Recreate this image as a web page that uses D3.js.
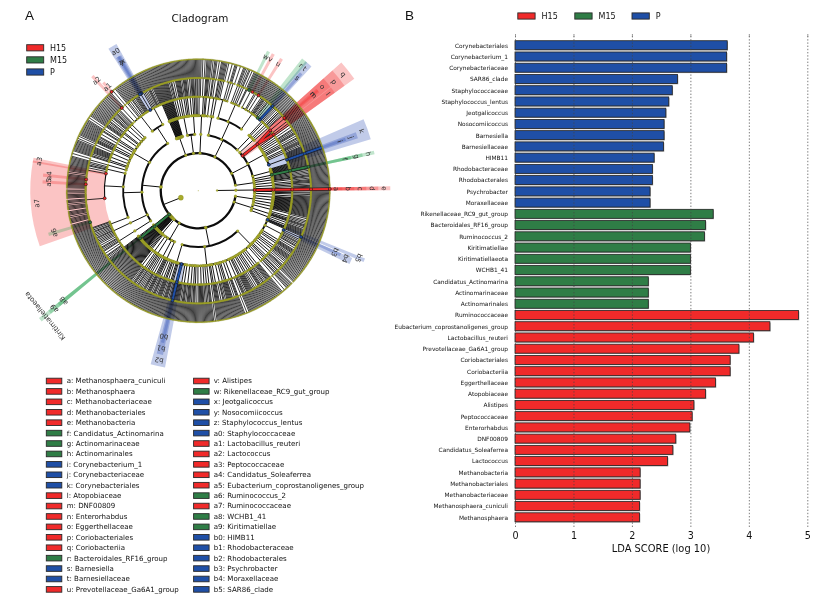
<!DOCTYPE html>
<html>
<head>
<meta charset="utf-8">
<script src="https://cdn.jsdelivr.net/npm/d3@7"></script>
<style>
html,body{margin:0;padding:0;background:#fff}
svg{display:block;font-family:"DejaVu Sans",sans-serif;filter:blur(0.3px)}
</style>
</head>
<body>
<svg id="chart" width="840" height="598"></svg>
<script>
// ---------- data: LDA bars ----------
const barNames = ["Corynebacteriales","Corynebacterium_1","Corynebacteriaceae","SAR86_clade","Staphylococcaceae","Staphylococcus_lentus","Jeotgalicoccus","Nosocomiicoccus","Barnesiella","Barnesiellaceae","HIMB11","Rhodobacteraceae","Rhodobacterales","Psychrobacter","Moraxellaceae","Rikenellaceae_RC9_gut_group","Bacteroidales_RF16_group","Ruminococcus_2","Kiritimatiellae","Kiritimatiellaeota","WCHB1_41","Candidatus_Actinomarina","Actinomarinaceae","Actinomarinales","Ruminococcaceae","Eubacterium_coprostanoligenes_group","Lactobacillus_reuteri","Prevotellaceae_Ga6A1_group","Coriobacteriales","Coriobacteriia","Eggerthellaceae","Atopobiaceae","Alistipes","Peptococcaceae","Enterorhabdus","DNF00809","Candidatus_Soleaferrea","Lactococcus","Methanobacteria","Methanobacteriales","Methanobacteriaceae","Methanosphaera_cuniculi","Methanosphaera"];
const barValues = [3.63,3.62,3.62,2.78,2.69,2.63,2.58,2.55,2.55,2.54,2.38,2.35,2.35,2.31,2.31,3.39,3.26,3.24,3.0,3.0,3.0,2.28,2.28,2.28,4.85,4.36,4.08,3.83,3.68,3.68,3.43,3.26,3.06,3.03,2.99,2.75,2.7,2.61,2.14,2.14,2.14,2.13,2.13];
const barGroups = ["P","P","P","P","P","P","P","P","P","P","P","P","P","P","P","M15","M15","M15","M15","M15","M15","M15","M15","M15","H15","H15","H15","H15","H15","H15","H15","H15","H15","H15","H15","H15","H15","H15","H15","H15","H15","H15","H15"];
const xTicks = [0,1,2,3,4,5];
const groups = ["H15","M15","P"];
const groupColors = ["#f02a2a","#2f7d46","#1f4fa6"];
const wedgeColors = ["#f02a2a","#1fa24c","#1f45b0"];

// ---------- data: cladogram key ----------
const keyLetters = ["a","b","c","d","e","f","g","h","i","j","k","l","m","n","o","p","q","r","s","t","u","v","w","x","y","z","a0","a1","a2","a3","a4","a5","a6","a7","a8","a9","b0","b1","b2","b3","b4","b5"];
const keyNames = ["Methanosphaera_cuniculi","Methanosphaera","Methanobacteriaceae","Methanobacteriales","Methanobacteria","Candidatus_Actinomarina","Actinomarinaceae","Actinomarinales","Corynebacterium_1","Corynebacteriaceae","Corynebacteriales","Atopobiaceae","DNF00809","Enterorhabdus","Eggerthellaceae","Coriobacteriales","Coriobacteriia","Bacteroidales_RF16_group","Barnesiella","Barnesiellaceae","Prevotellaceae_Ga6A1_group","Alistipes","Rikenellaceae_RC9_gut_group","Jeotgalicoccus","Nosocomiicoccus","Staphylococcus_lentus","Staphylococcaceae","Lactobacillus_reuteri","Lactococcus","Peptococcaceae","Candidatus_Soleaferrea","Eubacterium_coprostanoligenes_group","Ruminococcus_2","Ruminococcaceae","WCHB1_41","Kiritimatiellae","HIMB11","Rhodobacteraceae","Rhodobacterales","Psychrobacter","Moraxellaceae","SAR86_clade"];
const keyGroups = ["H15","H15","H15","H15","H15","M15","M15","M15","P","P","P","H15","H15","H15","H15","H15","H15","M15","P","P","H15","H15","M15","P","P","P","P","H15","H15","H15","H15","H15","M15","H15","M15","M15","P","P","P","P","P","P"];
const strongLineages = ["e","d","c","b","h","g","j","i","q","p","t","b2","b1","Kiritimatiellaeota","a9"];

// ---------- data: taxonomy tree, counted as clades per level ----------
const euryarchaeota = [[[1,1,1],2],[1,1,2],["e",["d",["c",["b",["a"]]]]],[[1,1],[1,1]],[2,[1,1]]];
const smallPhylum = [[[1,1],[2,1]],[1,1,2],[1,2]];
const actinobacteria = [
  [1,1,["h",["g",["f",1]]],1],
  [1,1,1,1,1,1,1,1],
  [["k",1,1,1,["j",1,["i",1],1],1,1,1,1,1,1],[1,2],[1],[1,1,1],[2,1],[1],[3],[1,1],[1,2,1],[1],[4],[1]],
  ["q",["p",["l",1,1,1],2,["o",1,1,["m",1],["n",1],1,1]]],
  [[1,1],[2,1]]
];
const bacteroidetes = [
  [[1,2],[2,1],2],
  [
    [["t",1,["s",1],1,1],["r",1,1,1],1,1,2,1,1,1,1,2,[1,1,["u",1],1,1],1,2,[1,["v",1],1,1,1,["w",1],1]],
    [1,1,[3,1],1,[2,1],2],
    [[5,1],1,[1,4],[2,1],1]
  ],
  [[2,1],[1,[3,1]]]
];
const phylumE = [[[1,1,[2,1]],[1,1],1,[1,[2,2]],[1,2,1],1,[2]]];
const phylumF = [[[1,1],[1,1],[2,2]],[[1,1,1],1,[2,1],[1,1,1,1],1,[3,1],[1,2],1]];
const phylumG = [1,1,1,1,1,1,1,1,1,1,1,1,1,1];
const firmicutes = [
  [
    [1,1,2,1,1,1,2,1,2,1,["a0",1,["x",1],["y",1],["z",1],1],1,1,1,1],
    [1,2,1,1,3,1,2,[[1,1,1,["a1"]]],[1,1,["a2",1],1,1]]
  ],
  [[1,1,2,1],[1,1],[2,1,1,1,3],[1],[1,2],[1,1,1,1],[[3,1],1],[1],[5],[1,1,2],1,[1,1,1],[[2,2],1],[1,1,1,1,1,1],[2],[1,1],[[4,1]]],
  [
    [1,2,1,1,3],
    [["a3",1,1],["a7",1,1,1,2,1,1,1,["a4",1],1,1,1,1,["a5",1],1,1,1,1,0,1,1,2,1,1,1,1,0,1,1,1,2,1,1,1,1,0,1,1,1,1,2,1,1,1,1,1,0,1,1,["a6",1],1,1,1,1,1]],
    [1,1,2,1,1,2]
  ],
  [[1,2,1,1,2,1,2]],
  [[1,3,1,1,2,1,1,4,1,1,2]]
];
const phylumI = [[1,1],[1,1]];
const kiritimatiellaeota = ["Kiritimatiellaeota",["a9",["a8",1]]];
const singlePhyla = [1,1,1,1,1,1,1,1,1,1,1,1,1,1,1,1,1];
const phylumJ = [[1,1],[1,1],[1,1],[1,1]];
const phylumK = [[[1,1,1,2],[1,1]],[[1,2],1,[1,2]],[1,[2,1],[1,1,2],1,[1,1]],[1,2]];
const proteobacteria = [
  [[1,1,1],[2,1],[1,1],1,[1,2,1],[1,1],1,2,["b2",1,1,["b1",1,["b0",1],1],1,1,1],[1,1,1],[2,1]],
  [[1,1,2,1,1],[1,1],[2,1,1],[1],[3,1],[1,1,1,1,1],[2],[1,2,1],[1,1],[[2,1],1],[1],[1,1,1,3],[1,1],[2,1,1,1],[1],[1,1,1],[3,1]],
  [[1,1,[3,1]],[1,1,1],[2,1],1,[1,1,1,1],[1,2],[1],[3,1],[1,1],[1,2],
   [1,1,2],[1],[1,1,1,1,1],[[4,1]],[1,1],[2,1],[1],[0,1,2],[1,1,1],[3],[1,2,1],[1],[1,1,1,1],[2,1],[1,1],[1,1,3],
   [1,1,2,1,1,2,1,["b4",1,1,["b3",1]]],1,1,["b5",1],1]
];
const phylumL1 = [[[1,1,1],[1,2]],[1,1,1,2],[[1,2],[2,1],1]];
const phylumL2 = [[1,1,1,1],[1,1,1,1,1],[1,1,1,1,1],[1,1,1,1]];
const taxonomy = [
  [euryarchaeota],
  [smallPhylum,actinobacteria,bacteroidetes,phylumE,phylumF,phylumG,firmicutes,phylumI,kiritimatiellaeota,...singlePhyla,phylumJ,phylumK,proteobacteria,phylumL1,phylumL2]
];

// ---------- build ----------
const SPECIES = 7;
function build(v, depth){
  if (Array.isArray(v)) {
    const tag = typeof v[0] === "string" ? v[0] : null;
    const kids = (tag ? v.slice(1) : v).map(k => build(k, depth + 1));
    return {tag, children: kids};
  }
  if (depth >= SPECIES || v === 0) return {};
  if (depth === SPECIES - 1) return {children: d3.range(v).map(() => ({}))};
  if (depth === SPECIES - 2) return {children: d3.range(v).map(() => build(1, depth + 1))};
  return {children: [build(v, depth + 1)]};
}
const root = d3.hierarchy(build(taxonomy, 0), d => d.children && d.children.length ? d.children : null);
d3.cluster().size([360, 1]).separation(() => 1)(root);
root.count();

const svg = d3.select("#chart");
const colorOf = d3.scaleOrdinal(groups, groupColors);
const wedgeColorOf = d3.scaleOrdinal(groups, wedgeColors);
const groupOfTag = new Map(keyLetters.map((k, i) => [k, keyGroups[i]]));
groupOfTag.set("Kiritimatiellaeota", "M15");

// ---------- panel A ----------
const START = -4;
const theta = d => START + d.x;
const toA = t => (90 - t) * Math.PI / 180;
const radius = d3.scaleLinear([0, SPECIES], [0, 131.5]);
const labelRing = depth => 138 + (SPECIES - depth) * 12;
const clad = svg.append("g").attr("transform", "translate(198.3,190.7)");
const tagged = root.descendants().filter(d => d.data.tag);

const wedgeArc = d3.arc();
const PAD = 0.35, HALF = 0.25;
clad.append("g").selectAll("path").data(tagged).join("path")
  .attr("d", d => {
    const ls = d.leaves().map(theta);
    const t0 = d3.min(ls) - HALF - PAD, t1 = d3.max(ls) + HALF + PAD;
    return wedgeArc({innerRadius: radius(d.depth), outerRadius: labelRing(d.depth) + 6, startAngle: toA(t1), endAngle: toA(t0)});
  })
  .attr("fill", d => wedgeColorOf(groupOfTag.get(d.data.tag)))
  .attr("fill-opacity", 0.28);

const arcWidth = [0, 0, 2.3, 2.0, 1.8, 1.1, 0.5, 0.35];
const radialWidth = [0, 1.0, 1.0, 1.0, 0.95, 0.85, 0.8];
const internal = root.descendants().filter(d => d.children && d.depth > 0);
const links = clad.append("g").attr("fill", "none").attr("stroke", "#0c0c0c");
links.selectAll("path.r").data(internal).join("path").attr("class", "r")
  .attr("stroke-width", d => radialWidth[d.depth])
  .attr("d", d => {
    const p = d3.path();
    const [x0, y0] = d3.pointRadial(toA(theta(d)), radius(d.depth));
    const [x1, y1] = d3.pointRadial(toA(theta(d)), radius(d.depth + 1));
    p.moveTo(x0, y0); p.lineTo(x1, y1);
    return p.toString();
  });
links.selectAll("path.a").data(internal.filter(d => d.children.length > 1)).join("path").attr("class", "a")
  .attr("stroke-width", d => arcWidth[d.depth + 1])
  .attr("d", d => {
    const t0 = theta(d.children[0]), t1 = theta(d.children[d.children.length - 1]);
    const p = d3.path();
    p.arc(0, 0, radius(d.depth + 1), -t0 * Math.PI / 180, -t1 * Math.PI / 180, true);
    return p.toString();
  });

// thick coloured branches along the strongly enriched lineages
const strongEdges = tagged.filter(d => strongLineages.includes(d.data.tag)).flatMap(d =>
  d.children.filter(c => c.data.tag || d.data.tag === "i").map(c => ({p: d, c, g: groupOfTag.get(d.data.tag)})));
const edgeD = e => {
  const p = d3.path();
  p.moveTo(...d3.pointRadial(toA(theta(e.p)), radius(e.p.depth)));
  p.lineTo(...d3.pointRadial(toA(theta(e.c)), radius(e.c.depth)));
  return p.toString();
};
const strong = clad.append("g").attr("fill", "none");
strong.selectAll("path.o").data(strongEdges).join("path").attr("class", "o")
  .attr("d", edgeD).attr("stroke", "#111").attr("stroke-width", 3.1);
strong.selectAll("path.i").data(strongEdges).join("path").attr("class", "i")
  .attr("d", edgeD).attr("stroke", e => colorOf(e.g)).attr("stroke-width", 2.1);

const nodeR = d3.scaleSqrt([1, 720], [0.72, 2.6]);
const minR = [0, 0, 1.4, 1.4, 1.4, 1.05, 0.95, 0.72];
const nodes = root.descendants().filter(d => d.depth > 0);
const nodeOrder = nodes.slice().sort((a, b) => (a.data.tag ? 1 : 0) - (b.data.tag ? 1 : 0));
clad.append("g").selectAll("circle").data(nodeOrder).join("circle")
  .attr("transform", d => `translate(${d3.pointRadial(toA(theta(d)), radius(d.depth))})`)
  .attr("r", d => d.data.tag ? 1.5 : Math.max(nodeR(d.value), minR[d.depth]))
  .attr("fill", d => d.data.tag ? colorOf(groupOfTag.get(d.data.tag)) : "#a8ab2c")
  .attr("stroke", d => d.data.tag ? "#111" : "#6d6f1c")
  .attr("stroke-width", d => d.data.tag ? 0.6 : 0.2);
clad.append("circle").attr("r", 0.6).attr("fill", "#c9ca8a");

clad.append("g").selectAll("text").data(tagged).join("text")
  .attr("transform", d => {
    const ls = d.leaves().map(theta);
    const t = (d3.min(ls) + d3.max(ls)) / 2;
    return `translate(${d3.pointRadial(toA(t), labelRing(d.depth))}) rotate(${90 - t})`;
  })
  .attr("text-anchor", "middle").attr("dy", "0.35em")
  .attr("font-size", 7).attr("fill", "#333")
  .text(d => d.data.tag);

function panelText(x, y, s, size, extra){
  const t = svg.append("text").attr("x", x).attr("y", y).attr("font-size", size).attr("fill", "#111").text(s);
  if (extra) extra(t);
  return t;
}
const swatch = (g, x, y, w, h, c) => g.append("rect").attr("x", x).attr("y", y).attr("width", w).attr("height", h)
  .attr("fill", c).attr("stroke", "#2a2a2a").attr("stroke-width", 0.9);

panelText(25, 20, "A", 13.5, t => t.style("font-family", "Liberation Sans"));
panelText(405, 20, "B", 13.5, t => t.style("font-family", "Liberation Sans"));
panelText(200, 22.3, "Cladogram", 10.4, t => t.attr("text-anchor", "middle"));

groups.forEach((g, i) => {
  swatch(svg, 26.7, 44.7 + i * 12.1, 17, 6.2, colorOf(g));
  panelText(50, 50.7 + i * 12.1, g, 8);
});

// key
const keyCol = d3.scaleLinear([0, 1], [46.3, 193.6]);
const keyRow = d3.scaleLinear([0, 20], [381, 589.4]);
keyLetters.forEach((k, i) => {
  const col = Math.floor(i / 21), row = i % 21;
  swatch(svg, keyCol(col), keyRow(row) - 2.8, 15.5, 5.6, colorOf(keyGroups[i]));
  panelText(keyCol(col) + (col ? 20.2 : 20.4), keyRow(row) + 2.4, `${k}: ${keyNames[i]}`, 7.05, t => t.attr("fill", "#111"));
});

// ---------- panel B ----------
const x = d3.scaleLinear([0, 5], [515, 807.3]);
const y = d3.scaleBand(barNames, [39.6, 522.9]).paddingInner(0.2).paddingOuter(0.1);
const bars = svg.append("g");
const barData = barNames.map((n, i) => ({n, v: barValues[i], g: barGroups[i]}));
bars.selectAll("rect.s").data(barData).join("rect").attr("class", "s")
  .attr("x", x(0) + 0.4).attr("y", d => y(d.n) + 0.9)
  .attr("width", d => x(d.v) - x(0) + 0.4).attr("height", y.bandwidth())
  .attr("fill", "#a9a9a9");
bars.selectAll("rect.b").data(barData).join("rect").attr("class", "b")
  .attr("x", x(0)).attr("y", d => y(d.n))
  .attr("width", d => x(d.v) - x(0)).attr("height", y.bandwidth())
  .attr("fill", d => colorOf(d.g)).attr("stroke", "#222").attr("stroke-width", 0.8);

svg.append("g").attr("font-size", 5.85).attr("fill", "#111").attr("text-anchor", "end")
  .selectAll("text").data(barNames).join("text")
  .attr("x", 508).attr("y", d => y(d) + y.bandwidth() / 2 + 2.4).text(d => d);

const axis = svg.append("g").attr("transform", "translate(0,527)")
  .call(d3.axisBottom(x).tickValues(xTicks).tickFormat(d3.format("d")).tickSize(-493).tickPadding(5));
axis.select(".domain").remove();
axis.selectAll("line").attr("stroke", "#444").attr("stroke-width", 0.7).attr("stroke-dasharray", "1.4,1.8");
axis.selectAll("text").attr("font-size", 9.6).attr("fill", "#111").style("font-family", "DejaVu Sans");
const topAxis = svg.append("g").attr("transform", "translate(0,34)")
  .call(d3.axisBottom(x).tickValues(xTicks).tickFormat("").tickSize(3));
topAxis.select(".domain").remove();
topAxis.selectAll("line").attr("stroke", "#777").attr("stroke-width", 0.7);

panelText(661, 552.4, "LDA SCORE (log 10)", 9.9, t => t.attr("text-anchor", "middle"));

const legX = d3.scaleOrdinal(groups, [517.8, 574.8, 632]);
groups.forEach(g => {
  swatch(svg, legX(g), 12.9, 17.3, 6.2, colorOf(g));
  panelText(legX(g) + 23.8, 19, g, 8);
});
</script>
</body>
</html>
